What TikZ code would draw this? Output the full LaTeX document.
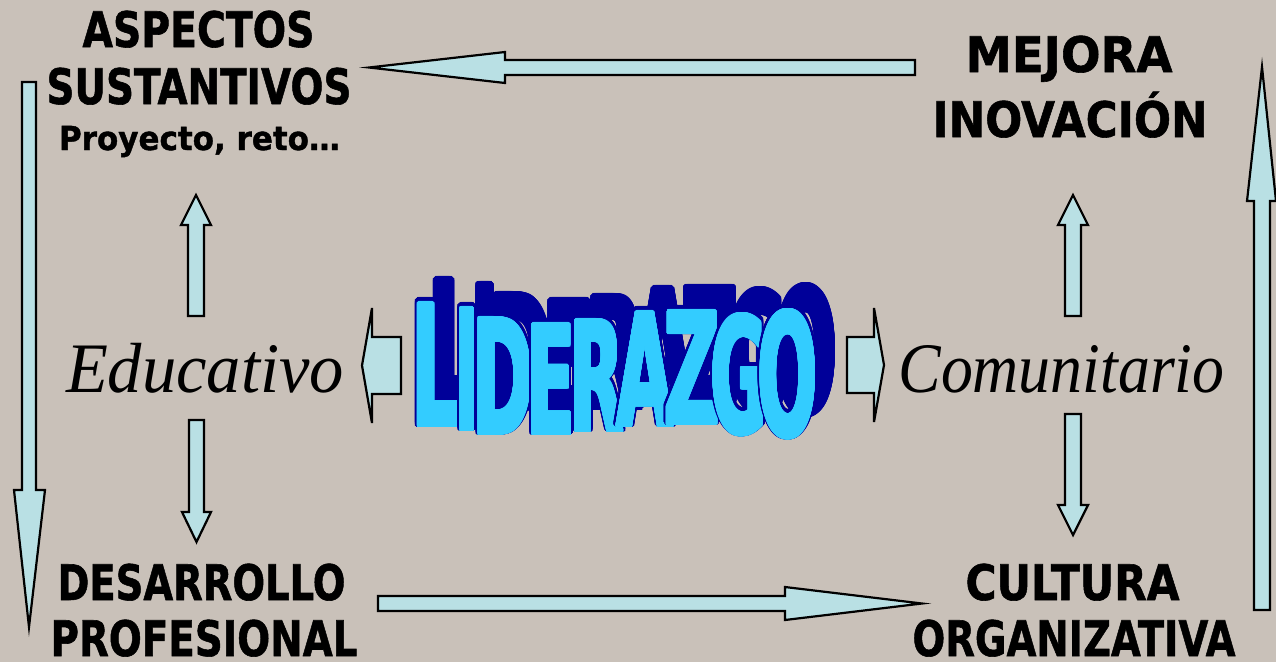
\documentclass[tikz,border=0pt]{standalone}
\usepackage{fontspec}
\usepackage{graphicx}
\usepackage[copies]{contour}
\newfontfamily\labfont{DejaVu Sans}[BoldFeatures={FakeBold=1.2}]
\newfontfamily\artfont{DejaVu Sans}
\newfontfamily\itfont{Liberation Serif}
\definecolor{bg}{RGB}{201,193,185}
\definecolor{arrowfill}{RGB}{185,224,228}
\definecolor{wacyan}{RGB}{51,204,255}
\definecolor{wablue}{RGB}{0,0,153}
\contournumber{32}
\begin{document}
\begin{tikzpicture}[x=1pt,y=-1pt,
  blockarrow/.style={fill=arrowfill,draw=black,line width=2.2pt,line join=miter},
  biglabel/.style={anchor=base,inner sep=0pt,font={\labfont\bfseries\fontsize{49}{49}\selectfont}},
  smalllabel/.style={anchor=base,inner sep=0pt,font={\labfont\bfseries\fontsize{33}{33}\selectfont}},
  itlabel/.style={anchor=base,inner sep=0pt,font={\itfont\itshape\fontsize{71}{71}\selectfont}},
  wordart/.style={anchor=south,inner sep=0pt,font={\artfont\bfseries\fontsize{50}{50}\selectfont}},
]
\useasboundingbox (0,0) rectangle (1276,662);
\fill[bg] (0,0) rectangle (1276,662);

% ---------- labels ----------
\node[biglabel] (asp) at (198.5,47) {\resizebox{232pt}{\height}{ASPECTOS}};
\node[biglabel] (sus) at (199,104) {\resizebox{305pt}{\height}{SUSTANTIVOS}};
\node[smalllabel] (pro) at (199.5,150) {\resizebox{281pt}{\height}{Proyecto, reto…}};
\node[biglabel] (mej) at (1069,72) {\resizebox{207pt}{\height}{MEJORA}};
\node[biglabel] (ino) at (1070,137) {\resizebox{275pt}{\height}{INOVACIÓN}};
\node[biglabel] (des) at (201.5,600) {\resizebox{288pt}{\height}{DESARROLLO}};
\node[biglabel] (prf) at (204,656) {\resizebox{307pt}{\height}{PROFESIONAL}};
\node[biglabel] (cul) at (1072.5,600) {\resizebox{214pt}{\height}{CULTURA}};
\node[biglabel] (org) at (1074,656) {\resizebox{323pt}{\height}{ORGANIZATIVA}};
\node[itlabel] (edu) at (205,392) {\resizebox{278pt}{\height}{Educativo}};
\node[itlabel] (com) at (1061.5,392) {\resizebox{326pt}{\height}{Comunitario}};

% ---------- long frame arrows ----------
\draw[blockarrow] (915,60) -- (505,60) -- (505,52) -- (369,67.5) -- (505,83) -- (505,75) -- (915,75) -- cycle;
\draw[blockarrow] (378,596) -- (785,596) -- (785,587) -- (922,603.5) -- (785,620) -- (785,611) -- (378,611) -- cycle;
\draw[blockarrow] (22,82) -- (36,82) -- (36,490) -- (45,490) -- (29,627) -- (14,490) -- (22,490) -- cycle;
\draw[blockarrow] (1254,610) -- (1254,201) -- (1247,201) -- (1262,67) -- (1276,201) -- (1270,201) -- (1270,610) -- cycle;

% ---------- small vertical arrows ----------
\draw[blockarrow] (188,316) -- (188,225) -- (181,225) -- (196,195) -- (211,225) -- (204,225) -- (204,316) -- cycle;
\draw[blockarrow] (189,420) -- (204,420) -- (204,512) -- (211,512) -- (196.5,542) -- (182,512) -- (189,512) -- cycle;
\draw[blockarrow] (1065,316) -- (1065,225) -- (1058,225) -- (1073,195) -- (1088,225) -- (1081,225) -- (1081,316) -- cycle;
\draw[blockarrow] (1065,414) -- (1081,414) -- (1081,505) -- (1088,505) -- (1073,535) -- (1058,505) -- (1065,505) -- cycle;

% ---------- side block arrows ----------
\draw[blockarrow] (401,337) -- (401,394) -- (372,394) -- (372,423) -- (362,365.5) -- (372,308) -- (372,337) -- cycle;
\draw[blockarrow] (847,337) -- (874,337) -- (874,308) -- (884,365) -- (874,422) -- (874,393) -- (847,393) -- cycle;

% ---------- LIDERAZGO word art ----------
\foreach \ch/\cx/\tp/\bt/\w in {L/436/305/428/43, I/467/310/432/20, D/503/320/436/54, E/551/326/436/43, R/597/322/433/48, A/645/314/428/50, Z/692/313/426/49, G/739/318/437/50, O/788/314/440/53}{
  \pgfmathsetmacro\hh{\bt-\tp}
  \pgfmathsetmacro\ww{1.12*\w}
  \node[wordart] (sh\ch) at (\cx+18,\bt-22) {\contourlength{3.4pt}\textcolor{wablue}{\contour{wablue}{\resizebox{\ww pt}{\hh pt}{\ch}}}};
}
\foreach \ch/\cx/\tp/\bt/\w in {L/436/305/428/43, I/467/310/432/20, D/503/320/436/54, E/551/326/436/43, R/597/322/433/48, A/645/314/428/50, Z/692/313/426/49, G/739/318/437/50, O/788/314/440/53}{
  \pgfmathsetmacro\hh{\bt-\tp}
  \pgfmathsetmacro\ww{1.12*\w}
  \node[wordart] (lo\ch) at (\cx,\bt) {\contourlength{3.6pt}\textcolor{wablue}{\contour{wablue}{\resizebox{\ww pt}{\hh pt}{\ch}}}};
  \node[wordart] (lz\ch) at (\cx,\bt) {\contourlength{1.6pt}\textcolor{wacyan}{\contour{wacyan}{\resizebox{\ww pt}{\hh pt}{\ch}}}};
}
\end{tikzpicture}
\end{document}
